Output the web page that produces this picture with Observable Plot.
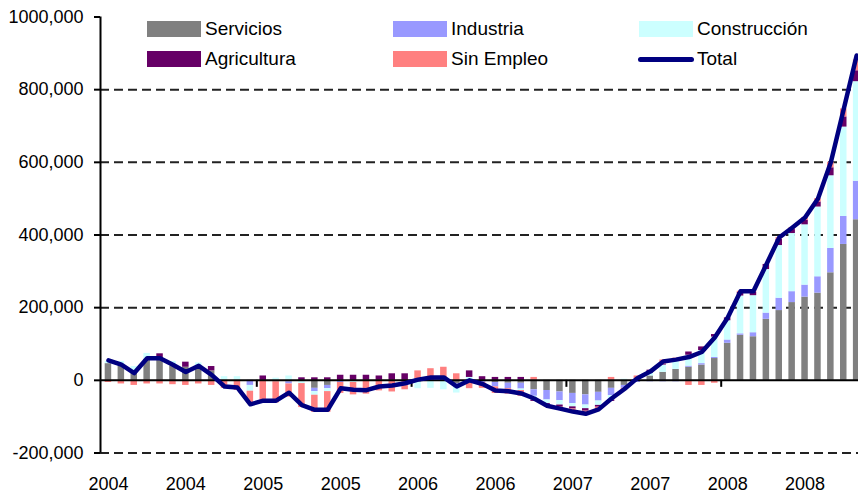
<!DOCTYPE html>
<html><head><meta charset="utf-8">
<script src="https://cdn.jsdelivr.net/npm/d3@7"></script>
<script src="https://cdn.jsdelivr.net/npm/@observablehq/plot@0.6"></script>
<style>
body{margin:0;background:#fff;}
#wrap{position:relative;width:858px;height:497px;overflow:hidden;font-family:"Liberation Sans",Arial,sans-serif;background:#fff;}
.lg{position:absolute;display:flex;align-items:center;height:16px;font-size:19px;color:#000;white-space:nowrap;}
.sw{width:54px;height:16px;margin-right:4px;}
.ln{width:56px;height:5px;border-radius:3px;margin-right:3px;}
</style></head><body><div id="wrap"></div>
<script>
const months = [
 "2004-01","2004-02","2004-03","2004-04","2004-05","2004-06","2004-07","2004-08","2004-09","2004-10","2004-11","2004-12",
 "2005-01","2005-02","2005-03","2005-04","2005-05","2005-06","2005-07","2005-08","2005-09","2005-10","2005-11","2005-12",
 "2006-01","2006-02","2006-03","2006-04","2006-05","2006-06","2006-07","2006-08","2006-09","2006-10","2006-11","2006-12",
 "2007-01","2007-02","2007-03","2007-04","2007-05","2007-06","2007-07","2007-08","2007-09","2007-10","2007-11","2007-12",
 "2008-01","2008-02","2008-03","2008-04","2008-05","2008-06","2008-07","2008-08","2008-09","2008-10","2008-11"];
// values in thousands of persons
const servicios = [46,40,24,58,58,40,36,36,26,0, 0,0,0,-4,-4,0,-22,-14,-3,0, 0,0,0,0,-5,-2,-2,-10,-3,-4,
 -6,-8,-8,-26,-28,-32,-36,-40,-33,-22, -14,2,12,22,30,36,42,60,102,124, 120,168,192,214,229,240,296,374,442];
const industria = [0,0,0,0,0,0,0,0,0,0, 0,-14,-3,0,-6,0,-9,-9,-3,0, 0,0,0,0,0,0,0,-5,0,-2,
 -12,-15,-16,-18,-26,-24,-28,-28,-24,-20, -8,-6,-4,-4,-4,3,4,3,9,4, 11,17,34,30,33,45,67,77,106];
const construccion = [6,12,14,16,0,12,0,12,0,10, 10,-16,0,6,12,-9,-10,-8,0,-6, 0,0,0,0,-18,-20,-24,-20,8,0,
 0,0,-4,-10,-10,-12,-9,-10,-12,-12, 3,3,8,20,24,30,36,56,53,104, 102,120,145,160,166,192,200,246,274];
const agricultura = [0,0,0,0,15,0,14,0,12,0, 0,0,12,0,0,7,7,7,14,14, 14,12,18,18,0,0,0,0,18,10,
 8,8,8,-4,-4,-6,-6,-7,-5,-4, 0,0,8,2,4,9,10,7,8,10, 9,14,17,11,12,14,22,28,30];
const sinEmpleo = [-6,-10,-14,-10,-10,-12,-14,-10,-14,-22, -28,-34,-58,-58,-36,-66,-47,-57,-30,-34, -38,-29,-32,-26,26,32,36,18,-20,-16,
 -18,-15,-16,8,-2,-4,-7,-7,-6,8, -5,7,0,12,3,-14,-14,-8,0,3, 3,0,5,5,8,9,15,22,30];
const total = [55,43,20,61,61,43,23,40,15,-17, -20,-66,-56,-56,-34,-68,-81,-81,-22,-26, -27,-17,-14,-8,2,8,8,-17,0,-10,
 -28,-30,-36,-50,-70,-78,-86,-92,-80,-50, -24,6,24,52,57,64,78,118,172,245, 245,319,393,420,448,500,600,747,894];

const seriesNames = ["Servicios","Industria","Construcción","Agricultura","Sin Empleo"];
const seriesColors = ["#808080","#9999FF","#CCFFFF","#660066","#FF8080"];
const totalName = "Total";
const totalColor = "#000080";
const yTicks = [-200,0,200,400,600,800,1000];
const yTickLabels = ["-200,000","0","200,000","400,000","600,000","800,000","1000,000"];
const gridValues = [-200,200,400,600,800];
const xTickMonths = months.filter((d,i)=>i%6===0);
const yearStarts = ["2005-01","2006-01","2007-01","2008-01"];

const seriesValues = [servicios, industria, construccion, agricultura, sinEmpleo];
const table = [];
seriesNames.forEach((s,k)=>months.forEach((m,i)=>table.push({month:m, series:s, value:seriesValues[k][i]})));
const totalRows = months.map((m,i)=>({month:m, total:total[i]}));

const step = 12.9;
const font = '"Liberation Sans", Arial, sans-serif';
const chart = Plot.plot({
  width: 858, height: 497,
  marginLeft: 100, marginRight: 0, marginTop: 16.5, marginBottom: 44.5,
  style: {fontFamily: font, fontSize: "18px", background: "white", color: "black", overflow: "visible"},
  x: {domain: months, range: [101.5, 101.5 + step*months.length], padding: 0, axis: null, label: null},
  y: {domain: [-200, 1000], axis: null, label: null},
  color: {domain: seriesNames, range: seriesColors},
  marks: [
    Plot.ruleY(gridValues, {stroke: "#222", strokeWidth: 2, strokeDasharray: "9,5"}),
    Plot.barY(table, {x: "month", y: "value", fill: "series", insetLeft: 3.2, insetRight: 3.2}),
    Plot.ruleY([0], {stroke: "#000", strokeWidth: 2}),
    Plot.ruleX(yearStarts, {y1: 0, y2: 0, insetBottom: -7, dx: -step/2, stroke: "#000", strokeWidth: 2}),
    Plot.ruleX([months[0]], {y1: -200, y2: 1000, dx: -step/2 - 1.5, stroke: "#000", strokeWidth: 2}),
    Plot.lineY(totalRows, {x: "month", y: "total", stroke: totalColor, strokeWidth: 4.5, strokeLinejoin: "round", strokeLinecap: "round"}),
    Plot.axisY({ticks: yTicks, anchor: "left", label: null, tickSize: 6, tickPadding: 11, tickFormat: d => yTickLabels[yTicks.indexOf(d)], fontSize: 18, strokeWidth: 2}),
    Plot.axisX({ticks: xTickMonths, anchor: "bottom", label: null, tickSize: 0, tickPadding: 24.5, tickFormat: d => d.slice(0,4), fontSize: 18})
  ]
});
const wrap = document.getElementById("wrap");
wrap.appendChild(chart);

const legendItems = [
  {name: seriesNames[0], color: seriesColors[0], left: 147, top: 21, line: false},
  {name: seriesNames[1], color: seriesColors[1], left: 393, top: 21, line: false},
  {name: seriesNames[2], color: seriesColors[2], left: 639, top: 21, line: false},
  {name: seriesNames[3], color: seriesColors[3], left: 147, top: 51, line: false},
  {name: seriesNames[4], color: seriesColors[4], left: 393, top: 51, line: false},
  {name: totalName, color: totalColor, left: 638, top: 51, line: true}
];
legendItems.forEach(it => {
  const d = document.createElement("div");
  d.className = "lg";
  d.style.left = it.left + "px";
  d.style.top = it.top + "px";
  const sw = document.createElement("span");
  sw.className = it.line ? "ln" : "sw";
  sw.style.background = it.color;
  d.appendChild(sw);
  const t = document.createElement("span");
  t.textContent = it.name;
  d.appendChild(t);
  wrap.appendChild(d);
});
</script></body></html>
